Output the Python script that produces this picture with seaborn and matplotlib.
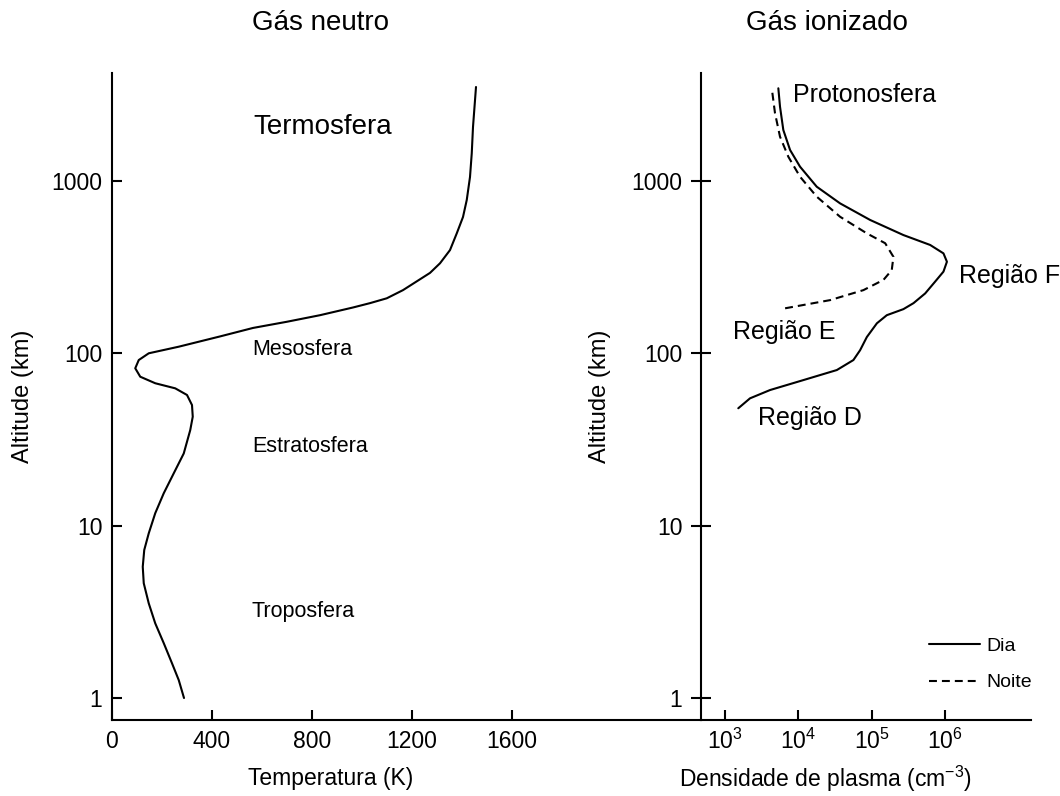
import numpy as np
import pandas as pd
import matplotlib
matplotlib.use("Agg")
import matplotlib.pyplot as plt
import seaborn as sns
from matplotlib.ticker import FixedLocator, NullLocator, FixedFormatter

# Neutral atmosphere: temperature profile vs altitude
alt_neutral_km = [1.0, 1.27, 1.59, 2.08, 2.71, 3.54, 4.63, 5.77, 7.22, 9.02, 11.8, 15.4,
                  20.1, 26.2, 35.8, 42.8, 50.0, 57.2, 62.5, 66.9, 73.0, 81.7, 91.2, 99.8,
                  109, 125, 140, 152, 166, 184, 195, 208, 232, 292, 332, 396, 495, 616,
                  773, 1051, 1442, 2049, 3496]
temperature_K = [288, 267, 240, 207, 173, 147, 127, 123, 129, 147, 173, 207,
                 247, 287, 313, 323, 320, 300, 253, 173, 113, 93, 107, 147,
                 267, 432, 564, 699, 832, 964, 1032, 1099, 1164, 1272, 1312, 1352, 1379, 1404,
                 1419, 1432, 1439, 1444, 1456]

# Ionized gas: plasma density profiles (day / night)
alt_day_km = [47.9, 54.7, 61.1, 69.8, 79.8, 91.2, 104, 124, 149, 166, 180, 195, 222,
              260, 297, 339, 379, 424, 484, 592, 739, 923, 1206, 1507, 1968, 2687, 3436]
density_day = [1.53e3, 2.21e3, 4.14e3, 1.18e4, 3.36e4, 5.65e4, 6.97e4, 8.61e4, 1.18e5,
               1.61e5, 2.71e5, 3.72e5, 5.36e5, 7.33e5, 9.51e5, 1.06e6, 9.51e5, 6.27e5,
               2.71e5, 9.55e4, 3.72e4, 1.79e4, 1.06e4, 7.76e3, 6.28e3, 5.66e3, 5.37e3]
alt_night_km = [182, 203, 232, 266, 303, 362, 434, 495, 618, 808, 1055, 1377, 1800, 2460, 3436]
density_night = [6.64e3, 2.72e4, 7.73e4, 1.45e5, 1.88e5, 1.98e5, 1.53e5, 8.61e4, 3.72e4,
                 1.79e4, 1.06e4, 7.35e3, 5.66e3, 4.84e3, 4.37e3]

alt_ticks = [1, 10, 100, 1000]
alt_tick_labels = ["1", "10", "100", "1000"]
temp_ticks = [0, 400, 800, 1200, 1600]
dens_ticks = [1e3, 1e4, 1e5, 1e6]
dens_tick_labels = [r"$\mathdefault{10^{3}}$", r"$\mathdefault{10^{4}}$",
                    r"$\mathdefault{10^{5}}$", r"$\mathdefault{10^{6}}$"]

sns.set_theme(style="ticks")
plt.rcParams["font.family"] = ["Liberation Sans", "DejaVu Sans"]
plt.rcParams["mathtext.fontset"] = "custom"
plt.rcParams["mathtext.rm"] = "Liberation Sans"
plt.rcParams["mathtext.it"] = "Liberation Sans:italic"
plt.rcParams["mathtext.bf"] = "Liberation Sans:bold"
plt.rcParams["text.color"] = "black"
plt.rcParams["axes.labelcolor"] = "black"
plt.rcParams["xtick.color"] = "black"
plt.rcParams["ytick.color"] = "black"

W, H = 1060, 796
fig = plt.figure(figsize=(W / 100, H / 100), dpi=100)

x0, xs, x1 = 112, 700.7, 1031
yb, yt = 720, 73
ax1 = fig.add_axes([x0 / W, 1 - yb / H, (xs - x0) / W, (yb - yt) / H])
ax2 = fig.add_axes([xs / W, 1 - yb / H, (x1 - xs) / W, (yb - yt) / H])

for ax in (ax1, ax2):
    ax.set_yscale("log")
    ax.set_ylim(0.7455, 4214)
    ax.yaxis.set_major_locator(FixedLocator(alt_ticks))
    ax.yaxis.set_major_formatter(FixedFormatter(alt_tick_labels))
    ax.yaxis.set_minor_locator(NullLocator())
    for s in ("top", "right"):
        ax.spines[s].set_visible(False)
    for s in ("left", "bottom"):
        ax.spines[s].set_linewidth(1.5)
        ax.spines[s].set_color("black")
    ax.set_facecolor("none")

line_kw = dict(color="black", lw=1.5, solid_joinstyle="round", solid_capstyle="round")

# --- Neutral gas panel ---
neutral = pd.DataFrame({"T": temperature_K, "h": alt_neutral_km})
sns.lineplot(data=neutral, x="T", y="h", sort=False, estimator=None, ax=ax1, **line_kw)
ax1.set_xlim(0, (xs - x0) / 0.25)
ax1.xaxis.set_major_locator(FixedLocator(temp_ticks))
ax1.tick_params(axis="both", direction="in", length=7.2, width=1.5,
                labelsize=16.5, pad=7)
ax1.set_xlabel("Temperatura (K)", fontsize=16.5)
ax1.xaxis.set_label_coords((331 - x0) / (xs - x0), -(778 - yb) / (yb - yt))
ax1.xaxis.label.set_va("center")
ax1.set_ylabel("Altitude (km)", fontsize=17)
ax1.yaxis.set_label_coords((22.5 - x0) / (xs - x0), 0.5)
ax1.yaxis.label.set_va("center")
ax1.set_title("Gás neutro", fontsize=20, x=(321 - x0) / (xs - x0),
              y=(yb - 23) / (yb - yt), va="center", pad=0)

ax1.text(564, 2049, "Termosfera", fontsize=20, ha="left", va="center")
ax1.text(563, 105, "Mesosfera", fontsize=15.5, ha="left", va="center")
ax1.text(563, 28.6, "Estratosfera", fontsize=15.5, ha="left", va="center")
ax1.text(556, 3.17, "Troposfera", fontsize=15.5, ha="left", va="center")

# --- Ionized gas panel ---
ax2.set_xscale("log")
day = pd.DataFrame({"n": density_day, "h": alt_day_km})
night = pd.DataFrame({"n": density_night, "h": alt_night_km})
sns.lineplot(data=day, x="n", y="h", sort=False, estimator=None, ax=ax2,
             label="Dia", **line_kw)
sns.lineplot(data=night, x="n", y="h", sort=False, estimator=None, ax=ax2,
             label="Noite", ls=(0, (3.8, 2.4)), **line_kw)
ax2.set_xlim(10 ** 2.673, 10 ** 7.17)
ax2.xaxis.set_major_locator(FixedLocator(dens_ticks))
ax2.xaxis.set_major_formatter(FixedFormatter(dens_tick_labels))
ax2.xaxis.set_minor_locator(NullLocator())
ax2.tick_params(axis="x", direction="in", length=7.2, width=1.5,
                labelsize=16.5, pad=6)
ax2.tick_params(axis="y", direction="inout", length=14.4, width=1.5,
                labelsize=16.5, pad=6)
ax2.set_xlabel("Densidade de plasma (cm$^{-3}$)", fontsize=16.5)
ax2.xaxis.set_label_coords((825 - xs) / (x1 - xs), -(779 - yb) / (yb - yt))
ax2.xaxis.label.set_va("center")
ax2.set_ylabel("Altitude (km)", fontsize=17)
ax2.yaxis.set_label_coords((600 - xs) / (x1 - xs), 0.5)
ax2.yaxis.label.set_va("center")
ax2.set_title("Gás ionizado", fontsize=20, x=(826.5 - xs) / (x1 - xs),
              y=(yb - 23) / (yb - yt), va="center", pad=0)

ax2.text(10 ** 3.935, 10 ** 3.497, "Protonosfera", fontsize=18, ha="left", va="center")
ax2.text(10 ** 6.183, 10 ** 2.447, "Região F", fontsize=18, ha="left", va="center")
ax2.text(10 ** 3.109, 10 ** 2.124, "Região E", fontsize=18, ha="left", va="center")
ax2.text(10 ** 3.458, 10 ** 1.624, "Região D", fontsize=18, ha="left", va="center")

handles, labels = ax2.get_legend_handles_labels()
ax2.legend(handles, labels, loc="center left",
           bbox_to_anchor=(929 / W, 1 - 664.5 / H), bbox_transform=fig.transFigure,
           frameon=False, borderpad=0, borderaxespad=0, handlelength=2.6,
           handletextpad=0.36, labelspacing=0.95, fontsize=14)

fig.savefig("out.png", dpi=100, facecolor="white")
